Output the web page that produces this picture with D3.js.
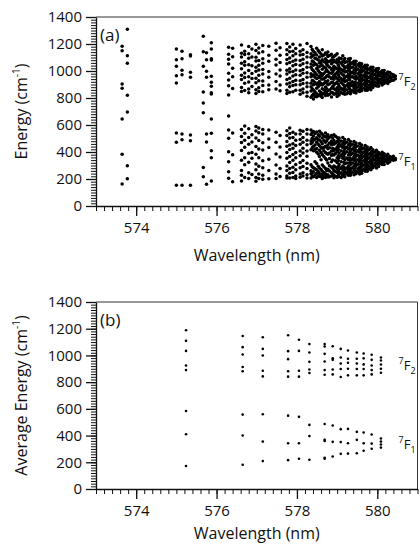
<!DOCTYPE html>
<html lang="en">
<head>
<meta charset="UTF-8">
<title>Energy vs wavelength</title>
<script src="https://d3js.org/d3.v7.min.js"></script>
<style>
  body { margin: 0; background: #fff; }
  text { font-family: "Open Sans", sans-serif; fill: #111; }
  .tick line, .domain { stroke: #111; }
</style>
</head>
<body>
<script>
// panel (a): each entry is [wavelength (nm), energies (cm-1)] of one line
const sparseLinesA = [
  [573.65, [1183, 1150, 904, 872, 644, 383, 163]],
  [573.78, [1309, 1113, 1057, 820, 696, 298, 202]],
  [575.00, [1163, 1084, 1035, 965, 911, 541, 472, 153]],
  [575.14, [1146, 1091, 1005, 973, 533, 491, 153]],
  [575.35, [1121, 1111, 990, 953, 526, 484, 153]],
  [575.67, [1258, 1143, 1035, 844, 763, 691, 286, 217]],
  [575.75, [1136, 1084, 998, 953, 533, 474, 161]],
  [575.87, [1209, 1163, 1091, 1081, 962, 916, 887, 839, 830, 644, 538, 410, 358, 185]]
];
const midLinesA = [
  [576.30, [1176, 1124, 1087, 1052, 983, 933, 891, 822, 667, 563, 501, 402, 328, 254, 205]],
  [576.40, [1168, 1106, 1020, 958, 870, 540, 380, 180]],
  [576.62, [1193, 1132, 1104, 1058, 1016, 968, 937, 877, 848, 566, 514, 471, 412, 338, 263, 228, 186]],
  [576.70, [1147, 1122, 1069, 1043, 986, 951, 909, 856, 593, 539, 487, 436, 357, 306, 212]],
  [576.80, [1181, 1127, 1095, 1046, 1004, 957, 918, 866, 838, 572, 508, 458, 391, 324, 247, 203]],
  [576.88, [1163, 1104, 1038, 981, 944, 886, 527, 474, 396, 353, 233]],
  [576.98, [1198, 1152, 1101, 1074, 1027, 998, 946, 913, 862, 833, 588, 556, 503, 441, 384, 312, 268, 211, 184]],
  [577.05, [1171, 1134, 1078, 1043, 1007, 968, 928, 876, 848, 578, 543, 486, 423, 357, 294, 237, 203]],
  [577.15, [1188, 1142, 1091, 1058, 1012, 978, 926, 893, 847, 567, 533, 468, 414, 336, 283, 227, 198]],
  [577.30, [1183, 1117, 1073, 996, 953, 897, 862, 563, 497, 433, 347, 263, 202]],
  [577.48, [1206, 1153, 1087, 1044, 977, 923, 867, 547, 473, 386, 303, 237, 203]],
  [577.58, [1172, 1117, 1063, 1007, 963, 897, 853, 523, 437, 363, 277, 218]],
  [577.75, [1203, 1158, 1123, 1086, 1053, 1006, 978, 937, 903, 857, 833, 557, 523, 477, 443, 397, 353, 297, 263, 222, 208]],
  [577.82, [1177, 1143, 1097, 1063, 1017, 993, 947, 912, 883, 842, 578, 537, 503, 452, 418, 367, 323, 277, 243, 207]],
  [577.90, [1198, 1147, 1113, 1072, 1038, 997, 963, 922, 893, 847, 547, 508, 462, 428, 382, 338, 287, 248, 212]],
  [577.97, [1167, 1128, 1082, 1048, 1007, 973, 932, 898, 857, 533, 487, 448, 397, 358, 307, 268, 222, 203]],
  [578.08, [1193, 1147, 1118, 1077, 1043, 1002, 968, 927, 898, 857, 828, 562, 533, 492, 458, 407, 373, 322, 283, 237, 213]],
  [578.15, [1157, 1123, 1087, 1053, 1012, 983, 937, 908, 867, 838, 553, 507, 473, 427, 393, 337, 293, 247, 223]],
  [578.25, [1203, 1137, 1103, 1062, 1028, 987, 953, 912, 883, 842, 813, 567, 533, 487, 453, 407, 368, 317, 278, 232, 208]]
];
const denseLinesA = [
  [578.35, [1182, 1128, 1101, 1052, 1027, 979, 958, 909, 884, 851, 806, 563, 529, 484, 461, 417, 306, 262, 238, 207]],
  [578.38, [1160, 1112, 1075, 1011, 964, 930, 868, 818, 545, 501, 470, 432, 290, 246, 222]],
  [578.41, [1147, 1116, 1068, 1043, 1002, 971, 926, 898, 857, 829, 792, 552, 518, 487, 441, 409, 283, 254, 216]],
  [578.45, [1136, 1094, 1055, 988, 953, 915, 846, 812, 537, 495, 452, 419, 327, 276, 229]],
  [578.49, [1168, 1119, 1089, 1046, 1019, 972, 944, 901, 873, 832, 809, 548, 506, 473, 426, 398, 314, 268, 243, 211]],
  [578.53, [1152, 1081, 1030, 1003, 950, 912, 883, 817, 528, 491, 458, 386, 295, 256, 225]],
  [578.56, [1138, 1104, 1061, 1034, 991, 963, 922, 894, 852, 824, 554, 517, 489, 447, 413, 366, 282, 241, 218]],
  [578.60, [1126, 1073, 1051, 982, 946, 908, 841, 813, 540, 476, 435, 397, 342, 271, 221]],
  [578.63, [1157, 1111, 1083, 1041, 1013, 967, 938, 897, 869, 827, 803, 532, 503, 461, 428, 382, 303, 257, 233, 204]],
  [578.67, [1118, 1069, 1029, 981, 943, 908, 862, 835, 519, 486, 433, 409, 366, 290, 248, 218]],
  [578.71, [1133, 1091, 1064, 1022, 994, 951, 923, 881, 853, 818, 541, 512, 472, 443, 397, 352, 278, 237, 212]],
  [578.74, [1122, 1078, 1049, 1007, 962, 912, 869, 836, 516, 483, 435, 389, 340, 262, 226]],
  [578.77, [1141, 1108, 1066, 1038, 997, 968, 927, 899, 856, 821, 527, 498, 452, 424, 383, 318, 273, 231, 214]],
  [578.81, [1114, 1073, 1027, 986, 955, 903, 860, 828, 510, 466, 432, 392, 351, 298, 259, 216]],
  [578.86, [1124, 1082, 1054, 1011, 983, 942, 914, 872, 843, 807, 523, 481, 453, 407, 374, 327, 288, 247, 223]],
  [578.89, [1101, 1065, 1021, 993, 953, 917, 886, 838, 503, 467, 428, 386, 340, 279, 238]],
  [578.92, [1107, 1079, 1036, 1008, 967, 938, 897, 868, 827, 528, 486, 458, 412, 378, 297, 263, 227, 209]],
  [578.96, [1116, 1066, 1025, 978, 956, 907, 861, 831, 516, 467, 422, 388, 336, 288, 255, 221]],
  [579.00, [1128, 1086, 1059, 1017, 988, 946, 918, 876, 848, 812, 507, 478, 437, 403, 357, 323, 277, 248, 213]],
  [579.03, [1084, 1042, 1008, 973, 937, 901, 863, 835, 489, 452, 418, 372, 337, 290, 258, 226]],
  [579.05, [1097, 1069, 1026, 998, 957, 929, 887, 858, 822, 503, 467, 438, 392, 358, 307, 273, 237, 218]],
  [579.10, [1092, 1057, 1013, 983, 944, 914, 872, 841, 482, 448, 410, 374, 328, 283, 247, 212]],
  [579.14, [1113, 1071, 1043, 1002, 973, 931, 903, 862, 833, 508, 462, 433, 387, 353, 297, 268, 232, 222]],
  [579.17, [1078, 1036, 1006, 967, 937, 894, 868, 837, 478, 442, 403, 366, 322, 287, 255, 229]],
  [579.19, [1092, 1063, 1021, 993, 952, 923, 882, 853, 828, 492, 463, 422, 388, 342, 313, 272, 248, 217]],
  [579.24, [1068, 1032, 996, 962, 927, 895, 862, 831, 472, 436, 402, 356, 318, 282, 252, 238]],
  [579.28, [1088, 1047, 1018, 977, 948, 907, 883, 842, 493, 452, 423, 377, 343, 297, 268, 227]],
  [579.31, [1071, 1037, 1001, 966, 935, 898, 866, 838, 462, 428, 392, 356, 318, 284, 251, 233]],
  [579.33, [1093, 1052, 1023, 982, 953, 912, 888, 847, 832, 477, 448, 407, 378, 337, 308, 267, 243, 228]],
  [579.38, [1062, 1028, 991, 958, 921, 893, 857, 458, 422, 389, 350, 318, 283, 250]],
  [579.42, [1072, 1048, 1007, 978, 948, 907, 878, 842, 478, 437, 408, 367, 338, 297, 268, 232]],
  [579.45, [1054, 1017, 986, 951, 917, 888, 856, 452, 418, 382, 348, 312, 281, 248]],
  [579.47, [1073, 1032, 1003, 962, 938, 897, 873, 837, 467, 438, 397, 368, 327, 298, 257, 238]],
  [579.52, [1046, 1013, 979, 947, 912, 882, 854, 445, 410, 376, 342, 310, 276, 251]],
  [579.56, [1057, 1033, 992, 963, 927, 898, 862, 848, 463, 422, 398, 357, 328, 287, 258, 237]],
  [579.59, [1038, 1006, 972, 939, 909, 878, 438, 404, 372, 338, 305, 272, 253]],
  [579.61, [1053, 1017, 993, 952, 928, 892, 868, 853, 452, 423, 387, 358, 317, 293, 257, 243]],
  [579.66, [1031, 1001, 966, 936, 904, 874, 430, 398, 366, 335, 302, 272]],
  [579.70, [1042, 1018, 982, 953, 917, 893, 857, 448, 412, 383, 347, 323, 282, 258]],
  [579.73, [1026, 995, 962, 931, 901, 871, 424, 392, 362, 332, 300, 272]],
  [579.75, [1043, 1007, 983, 947, 918, 882, 858, 437, 408, 372, 348, 312, 288, 257]],
  [579.80, [1016, 986, 955, 925, 896, 872, 418, 387, 355, 326, 296, 275]],
  [579.84, [1027, 1003, 967, 943, 907, 883, 862, 433, 397, 373, 337, 313, 277, 268]],
  [579.87, [1010, 980, 951, 920, 895, 405, 376, 347, 319, 293]],
  [579.89, [1028, 992, 968, 932, 908, 877, 417, 393, 357, 338, 302, 283]],
  [579.94, [1005, 975, 946, 919, 894, 400, 372, 344, 318, 296]],
  [579.98, [1017, 993, 957, 938, 902, 888, 413, 382, 358, 327, 308, 282]],
  [580.01, [998, 971, 943, 916, 897, 390, 362, 337, 312]],
  [580.03, [1018, 982, 963, 927, 908, 887, 397, 378, 347, 328, 297, 292]],
  [580.08, [992, 966, 940, 917, 384, 357, 333, 315]],
  [580.12, [1002, 983, 952, 933, 902, 897, 398, 367, 348, 322, 308]],
  [580.15, [988, 961, 938, 916, 377, 352, 332, 314]],
  [580.17, [1003, 972, 953, 922, 908, 387, 368, 342, 328, 307]],
  [580.22, [981, 958, 935, 917, 372, 350, 331]],
  [580.26, [992, 973, 942, 928, 907, 383, 357, 343, 317]],
  [580.31, [988, 962, 948, 922, 367, 358, 337, 328]],
  [580.35, [977, 952, 930, 361, 345]],
  [580.40, [972, 958, 932, 368, 347, 338]],
  [580.45, [963, 942, 352, 343]]
];

// panel (b): averaged levels per line
const avgWavelengths = [575.24, 576.65, 577.15, 577.78, 578.05, 578.31, 578.69, 578.89,
  579.09, 579.27, 579.49, 579.66, 579.86, 580.09];
const avgEnergies = [
  [1189, 1109, 1034, 925, 890, 584, 410, 172],
  [1146, 1062, 1007, 913, 881, 557, 400, 181],
  [1136, 1049, 1000, 885, 843, 560, 355, 209],
  [1151, 1032, 972, 881, 841, 549, 343, 216],
  [1117, 1034, 885, 841, 540, 343, 226],
  [1085, 1022, 952, 895, 868, 480, 396, 219],
  [1085, 1067, 1012, 955, 890, 855, 487, 368, 360, 234, 226],
  [1069, 978, 967, 895, 858, 475, 353, 243],
  [1049, 985, 940, 898, 838, 448, 351, 263],
  [1037, 975, 945, 900, 851, 450, 343, 265],
  [1022, 975, 940, 898, 851, 428, 368, 268],
  [1015, 978, 933, 898, 851, 423, 343, 286],
  [1005, 967, 925, 890, 858, 408, 340, 301],
  [985, 962, 932, 900, 870, 378, 355, 333, 310]
];

const energyTicks = [0, 200, 400, 600, 800, 1000, 1200, 1400];
const wavelengthTicks = [574, 576, 578, 580];
const stateLabels = [
  { lam: 580.53, e: 890, sup: "7", base: "F", sub: "2" },
  { lam: 580.53, e: 300, sup: "7", base: "F", sub: "1" }
];

const W = 420, H = 544;
const svg = d3.select("body").append("svg")
  .attr("width", W).attr("height", H);

const x = d3.scaleLinear().domain([573, 581]).range([96, 417.5]);

function toPoints(lines) {
  const pts = [];
  lines.forEach(([lam, es]) => es.forEach(e => pts.push({ lam, e })));
  return pts;
}

const pointsA = toPoints(sparseLinesA.concat(midLinesA, denseLinesA));
const pointsB = toPoints(avgWavelengths.map((lam, i) => [lam, avgEnergies[i]]));

function panel(top, bottom, points, r, tag, yTitle, titleDy) {
  const y = d3.scaleLinear().domain([0, 1400]).range([bottom, top]);
  const g = svg.append("g");

  // frame top and right
  g.append("line")
    .attr("x1", x(573)).attr("x2", x(581))
    .attr("y1", y(1400)).attr("y2", y(1400))
    .attr("stroke", "#333").attr("stroke-width", 1);
  g.append("line")
    .attr("x1", x(581)).attr("x2", x(581))
    .attr("y1", y(1400)).attr("y2", y(0))
    .attr("stroke", "#333").attr("stroke-width", 1);

  // minor ticks
  g.append("g")
    .attr("transform", `translate(${x(573)},0)`)
    .call(d3.axisLeft(y).tickValues(d3.range(0, 1401, 20)).tickSize(5).tickFormat(""))
    .call(s => s.select(".domain").remove());
  g.append("g")
    .attr("transform", `translate(0,${y(0)})`)
    .call(d3.axisBottom(x).tickValues(d3.range(0, 41).map(i => 573 + i * 0.2)).tickSize(5).tickFormat(""))
    .call(s => s.select(".domain").remove());

  // major ticks
  const yAxis = g.append("g")
    .attr("transform", `translate(${x(573)},0)`)
    .call(d3.axisLeft(y).tickValues(energyTicks).tickSize(10).tickSizeOuter(0)
      .tickPadding(4).tickFormat(d3.format("d")));
  yAxis.selectAll("text").style("font-size", "15px");
  yAxis.selectAll("line, .domain").attr("stroke-width", 1.3);

  const xAxis = g.append("g")
    .attr("transform", `translate(0,${y(0)})`)
    .call(d3.axisBottom(x).tickValues(wavelengthTicks).tickSize(10).tickSizeOuter(0).tickPadding(6));
  xAxis.selectAll("text").style("font-size", "15px");
  xAxis.selectAll("line, .domain").attr("stroke-width", 1.3);

  // points
  g.append("g").selectAll("circle")
    .data(points)
    .join("circle")
    .attr("cx", d => x(d.lam))
    .attr("cy", d => y(d.e))
    .attr("r", r)
    .attr("fill", "#000");

  // tag
  g.append("text")
    .attr("x", x(573.1)).attr("y", y(1220))
    .style("font-size", "17px")
    .text(tag);

  // state labels
  stateLabels.forEach(s => {
    const t = g.append("text")
      .attr("x", x(s.lam)).attr("y", y(s.e))
      .style("font-size", "13px");
    t.append("tspan").attr("dy", -6).style("font-size", "9px").text(s.sup);
    t.append("tspan").attr("dy", 6).text(s.base);
    t.append("tspan").attr("dy", 4).style("font-size", "9px").text(s.sub);
  });

  // axis titles
  g.append("text")
    .attr("x", (x(573) + x(581)) / 2)
    .attr("y", y(0) + titleDy)
    .attr("text-anchor", "middle")
    .style("font-size", "16px")
    .text("Wavelength (nm)");

  const yt = g.append("text")
    .attr("transform", `translate(27,${(y(0) + y(1400)) / 2}) rotate(-90)`)
    .attr("text-anchor", "middle")
    .style("font-size", "16px");
  yt.append("tspan").text(yTitle + " (cm");
  yt.append("tspan").attr("dy", -7).style("font-size", "10px").text("-1");
  yt.append("tspan").attr("dy", 7).text(")");
}

panel(17, 206, pointsA, 1.75, "(a)", "Energy", 55);
panel(302, 489, pointsB, 1.3, "(b)", "Average Energy", 50);
</script>
</body>
</html>
